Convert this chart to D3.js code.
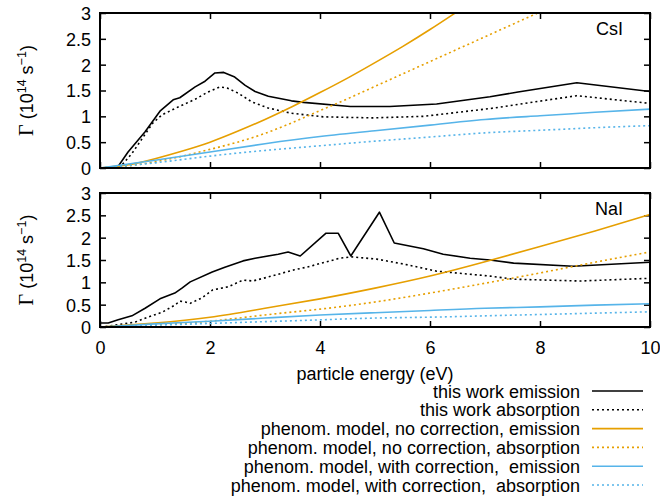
<!DOCTYPE html>
<html>
<head>
<meta charset="utf-8">
<script src="https://cdn.jsdelivr.net/npm/d3@7"></script>
<style>
  html, body { margin: 0; padding: 0; background: #fff; }
  svg text { font-family: "Liberation Sans", Arial, sans-serif; fill: #000; }
</style>
</head>
<body>
<svg id="chart" width="660" height="497"></svg>
<script>
// Emission / absorption rates Γ (10^14 s^-1) vs particle energy (eV), pairs [E, Γ]

// CsI
const csiEmission = [[0.31,0],[0.51,0.31],[0.82,0.70],[1.09,1.10],[1.33,1.32],[1.45,1.36],[1.73,1.57],[1.91,1.68],[2.09,1.84],[2.25,1.85],[2.45,1.76],[2.64,1.60],[2.82,1.48],[3.06,1.39],[3.48,1.30],[3.7,1.27],[4.55,1.19],[5.27,1.19],[6.12,1.24],[7.09,1.38],[7.6,1.47],[8.67,1.65],[10,1.48]];
const csiAbsorption = [[0.35,0],[0.58,0.28],[0.69,0.45],[0.96,0.87],[1.13,1.03],[1.42,1.18],[1.73,1.33],[1.96,1.47],[2.18,1.57],[2.31,1.55],[2.51,1.45],[2.76,1.28],[3.06,1.16],[3.48,1.06],[4.06,0.99],[4.97,0.97],[5.88,1.0],[7.09,1.15],[8.67,1.4],[10,1.25]];
const csiModelEmission = [[0,0],[0.5,0.06],[1,0.18],[1.5,0.33],[2,0.5],[2.5,0.71],[3,0.94],[3.5,1.19],[4,1.46],[4.5,1.74],[5,2.04],[5.5,2.35],[6,2.68],[6.5,3.03],[7,3.38]];
const csiModelAbsorption = [[0,0],[0.5,0.04],[1,0.12],[1.5,0.23],[2,0.36],[2.5,0.5],[3,0.67],[3.5,0.88],[4,1.11],[4.5,1.34],[5,1.58],[5.5,1.82],[6,2.06],[6.5,2.3],[7,2.54],[7.5,2.78],[8,3.02],[8.5,3.26]];
const csiCorrEmission = [[0,0],[1,0.15],[2,0.31],[3,0.47],[4,0.61],[5,0.72],[6,0.83],[7,0.94],[8,1.01],[9,1.08],[10,1.14]];
const csiCorrAbsorption = [[0,0],[1,0.1],[2,0.23],[3,0.34],[4,0.43],[5,0.52],[6,0.6],[7,0.68],[8,0.73],[9,0.78],[10,0.82]];

// NaI
const naiEmission = [[0,0.09],[0.15,0.09],[0.33,0.16],[0.58,0.25],[0.82,0.42],[1.09,0.63],[1.36,0.76],[1.49,0.87],[1.64,1.01],[2.04,1.23],[2.27,1.34],[2.6,1.48],[2.82,1.54],[3.24,1.63],[3.42,1.68],[3.64,1.59],[4.11,2.10],[4.33,2.10],[4.56,1.59],[5.08,2.57],[5.35,1.88],[5.88,1.75],[6.24,1.63],[6.73,1.54],[7.09,1.5],[7.52,1.43],[8.6,1.36],[10,1.45]];
const naiAbsorption = [[0.1,0.01],[0.64,0.11],[0.87,0.22],[1.13,0.33],[1.36,0.49],[1.45,0.58],[1.55,0.56],[1.64,0.53],[1.85,0.65],[2.05,0.83],[2.33,0.9],[2.6,1.05],[2.78,1.03],[3.06,1.12],[3.53,1.28],[3.76,1.34],[4.36,1.54],[4.58,1.57],[5.03,1.52],[5.52,1.41],[6.12,1.25],[7.09,1.14],[7.52,1.07],[8.73,1.03],[10,1.09]];
const naiModelEmission = [[0,0],[1,0.09],[2,0.22],[3,0.42],[4,0.63],[5,0.87],[6,1.14],[7,1.46],[8,1.8],[9,2.15],[10,2.52]];
const naiModelAbsorption = [[0,0],[1,0.05],[2,0.13],[3,0.27],[4,0.4],[5,0.56],[6,0.76],[7,0.98],[8,1.21],[9,1.45],[10,1.68]];
const naiCorrEmission = [[0,0],[1,0.07],[2,0.13],[3,0.2],[4,0.27],[5,0.32],[6,0.37],[7,0.42],[8,0.45],[9,0.49],[10,0.52]];
const naiCorrAbsorption = [[0,0],[1,0.04],[2,0.08],[3,0.12],[4,0.16],[5,0.2],[6,0.22],[7,0.25],[8,0.28],[9,0.31],[10,0.34]];

const xTicks = [0, 2, 4, 6, 8, 10];
const yTicks = [0, 0.5, 1, 1.5, 2, 2.5, 3];
const legendLabels = [
  "this work emission",
  "this work absorption",
  "phenom. model, no correction, emission",
  "phenom. model, no correction, absorption",
  "phenom. model, with correction,  emission",
  "phenom. model, with correction,  absorption"
];

const BLACK = "#000000", ORANGE = "#e69f00", BLUE = "#56b4e9";
const styles = [
  { color: BLACK,  dash: null,  smooth: false },
  { color: BLACK,  dash: "2,3", smooth: false },
  { color: ORANGE, dash: null,  smooth: true },
  { color: ORANGE, dash: "2,3", smooth: true },
  { color: BLUE,   dash: null,  smooth: true },
  { color: BLUE,   dash: "2,3", smooth: true }
];

const panels = [
  { name: "CsI", top: 13, bottom: 168, showX: false,
    series: [csiEmission, csiAbsorption, csiModelEmission, csiModelAbsorption, csiCorrEmission, csiCorrAbsorption] },
  { name: "NaI", top: 193, bottom: 327, showX: true,
    series: [naiEmission, naiAbsorption, naiModelEmission, naiModelAbsorption, naiCorrEmission, naiCorrAbsorption] }
];

const FS = 18;
const svg = d3.select("#chart");
const left = 100, right = 650;
const x = d3.scaleLinear().domain([0, 10]).range([left, right]);
const tickLen = 6;

panels.forEach((p, i) => {
  const y = d3.scaleLinear().domain([0, 3]).range([p.bottom, p.top]);
  const g = svg.append("g");

  const clipId = "clip" + i;
  svg.append("defs").append("clipPath").attr("id", clipId)
    .append("rect").attr("x", left).attr("y", p.top)
    .attr("width", right - left).attr("height", p.bottom - p.top);

  // inward ticks on all four sides
  const axB = d3.axisBottom(x).tickValues(xTicks).tickSizeInner(-tickLen).tickSizeOuter(0).tickFormat(p.showX ? d3.format("d") : "");
  const axT = d3.axisTop(x).tickValues(xTicks).tickSizeInner(-tickLen).tickSizeOuter(0).tickFormat("");
  const axL = d3.axisLeft(y).tickValues(yTicks).tickSizeInner(-tickLen).tickSizeOuter(0).tickFormat(d3.format(""));
  const axR = d3.axisRight(y).tickValues(yTicks).tickSizeInner(-tickLen).tickSizeOuter(0).tickFormat("");

  const gB = g.append("g").attr("transform", `translate(0,${p.bottom})`).call(axB);
  const gT = g.append("g").attr("transform", `translate(0,${p.top})`).call(axT);
  const gL = g.append("g").attr("transform", `translate(${left},0)`).call(axL);
  const gR = g.append("g").attr("transform", `translate(${right},0)`).call(axR);
  [gB, gT, gL, gR].forEach(a => {
    a.select(".domain").remove();
    a.selectAll("line").attr("stroke", "#000").attr("stroke-width", 1.5);
    a.selectAll("text").attr("font-size", FS).attr("fill", "#000")
      .attr("font-family", "Liberation Sans, Arial, sans-serif");
  });
  gL.selectAll("text").attr("x", -9).attr("dy", "0.36em");
  gB.selectAll("text").attr("y", 14).attr("dy", "0.71em");

  // curves
  const plot = g.append("g").attr("clip-path", `url(#${clipId})`);
  p.series.forEach((data, k) => {
    const st = styles[k];
    const line = d3.line().x(d => x(d[0])).y(d => y(d[1]))
      .curve(st.smooth ? d3.curveNatural : d3.curveLinear);
    plot.append("path").datum(data)
      .attr("fill", "none")
      .attr("stroke", st.color)
      .attr("stroke-width", 1.6)
      .attr("stroke-dasharray", st.dash)
      .attr("stroke-linejoin", "round")
      .attr("d", line);
  });

  // frame
  g.append("rect").attr("x", left).attr("y", p.top)
    .attr("width", right - left).attr("height", p.bottom - p.top)
    .attr("fill", "none").attr("stroke", "#000").attr("stroke-width", 2);

  // material label
  g.append("text").attr("x", 623).attr("y", p.top + 22)
    .attr("text-anchor", "end").attr("font-size", FS).text(p.name);

  // y axis title
  const cy = (p.top + p.bottom) / 2;
  const t = g.append("text")
    .attr("transform", `translate(33,${cy}) rotate(-90)`)
    .attr("text-anchor", "middle").attr("font-size", FS);
  t.append("tspan").attr("font-family", "Liberation Serif, Times New Roman, serif").attr("font-size", 20).text("Γ");
  t.append("tspan").text(" (10");
  t.append("tspan").attr("font-size", 12.5).attr("dy", -7.5).text("14");
  t.append("tspan").attr("dy", 7.5).text(" s");
  t.append("tspan").attr("font-size", 12.5).attr("dy", -7.5).text("−1");
  t.append("tspan").attr("dy", 7.5).text(")");
});

// x axis title
svg.append("text").attr("x", (left + right) / 2).attr("y", 380)
  .attr("text-anchor", "middle").attr("font-size", FS).text("particle energy (eV)");

// legend
const legend = svg.append("g");
legendLabels.forEach((lab, k) => {
  const cy = 391 + k * 18.8;
  legend.append("text").attr("x", 580).attr("y", cy + 6.5)
    .attr("text-anchor", "end").attr("font-size", FS)
    .style("white-space", "pre").text(lab);
  legend.append("line").attr("x1", 592).attr("x2", 643)
    .attr("y1", cy).attr("y2", cy)
    .attr("stroke", styles[k].color).attr("stroke-width", 1.6)
    .attr("stroke-dasharray", styles[k].dash);
});
</script>
</body>
</html>
